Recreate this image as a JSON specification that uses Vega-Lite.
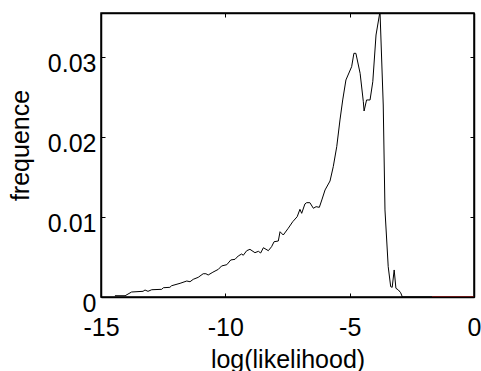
{
  "$schema": "https://vega.github.io/schema/vega-lite/v6.json",
  "autosize": "none",
  "width": 373,
  "height": 284,
  "padding": {"left": 101, "top": 13, "right": 7, "bottom": 74},
  "background": "white",
  "config": {
    "font": "Liberation Sans",
    "view": {"stroke": "black", "strokeWidth": 1.5},
    "axis": {"grid": false, "domainColor": "black", "domainWidth": 1.5, "tickColor": "black", "labelColor": "black", "titleColor": "black", "labelFont": "Liberation Sans", "titleFont": "Liberation Sans", "labelFontSize": 25, "titleFontSize": 25, "titleFontWeight": "normal"}
  },
  "data": {"values": [
    {"x": -14.44, "y": 0.00016, "s": "main"},
    {"x": -14.03, "y": 0.00016, "s": "main"},
    {"x": -13.77, "y": 0.000625, "s": "main"},
    {"x": -13.31, "y": 0.00071, "s": "main"},
    {"x": -13.23, "y": 0.000875, "s": "main"},
    {"x": -13.11, "y": 0.00071, "s": "main"},
    {"x": -12.96, "y": 0.00091, "s": "main"},
    {"x": -12.56, "y": 0.00096, "s": "main"},
    {"x": -12.49, "y": 0.00116, "s": "main"},
    {"x": -12.23, "y": 0.00121, "s": "main"},
    {"x": -12.16, "y": 0.00141, "s": "main"},
    {"x": -11.82, "y": 0.00171, "s": "main"},
    {"x": -11.55, "y": 0.0020, "s": "main"},
    {"x": -11.42, "y": 0.00191, "s": "main"},
    {"x": -11.29, "y": 0.00221, "s": "main"},
    {"x": -11.09, "y": 0.00246, "s": "main"},
    {"x": -10.89, "y": 0.00291, "s": "main"},
    {"x": -10.78, "y": 0.00291, "s": "main"},
    {"x": -10.69, "y": 0.00275, "s": "main"},
    {"x": -10.5, "y": 0.0031, "s": "main"},
    {"x": -10.28, "y": 0.00346, "s": "main"},
    {"x": -10.15, "y": 0.00388, "s": "main"},
    {"x": -9.94, "y": 0.00404, "s": "main"},
    {"x": -9.78, "y": 0.00463, "s": "main"},
    {"x": -9.61, "y": 0.00471, "s": "main"},
    {"x": -9.48, "y": 0.00513, "s": "main"},
    {"x": -9.34, "y": 0.00538, "s": "main"},
    {"x": -9.28, "y": 0.00521, "s": "main"},
    {"x": -9.14, "y": 0.00579, "s": "main"},
    {"x": -9.01, "y": 0.00596, "s": "main"},
    {"x": -8.81, "y": 0.00554, "s": "main"},
    {"x": -8.67, "y": 0.00571, "s": "main"},
    {"x": -8.58, "y": 0.0055, "s": "main"},
    {"x": -8.47, "y": 0.00616, "s": "main"},
    {"x": -8.27, "y": 0.00579, "s": "main"},
    {"x": -8.14, "y": 0.00629, "s": "main"},
    {"x": -8.04, "y": 0.00691, "s": "main"},
    {"x": -7.87, "y": 0.0070, "s": "main"},
    {"x": -7.80, "y": 0.00816, "s": "main"},
    {"x": -7.67, "y": 0.00775, "s": "main"},
    {"x": -7.47, "y": 0.00859, "s": "main"},
    {"x": -7.29, "y": 0.00941, "s": "main"},
    {"x": -7.11, "y": 0.01004, "s": "main"},
    {"x": -7.00, "y": 0.01096, "s": "main"},
    {"x": -6.93, "y": 0.01046, "s": "main"},
    {"x": -6.80, "y": 0.01163, "s": "main"},
    {"x": -6.73, "y": 0.01179, "s": "main"},
    {"x": -6.60, "y": 0.01179, "s": "main"},
    {"x": -6.46, "y": 0.01109, "s": "main"},
    {"x": -6.35, "y": 0.01129, "s": "main"},
    {"x": -6.22, "y": 0.01121, "s": "main"},
    {"x": -6.12, "y": 0.01213, "s": "main"},
    {"x": -5.99, "y": 0.01338, "s": "main"},
    {"x": -5.79, "y": 0.0145, "s": "main"},
    {"x": -5.66, "y": 0.01629, "s": "main"},
    {"x": -5.52, "y": 0.01879, "s": "main"},
    {"x": -5.39, "y": 0.02213, "s": "main"},
    {"x": -5.28, "y": 0.02463, "s": "main"},
    {"x": -5.15, "y": 0.02713, "s": "main"},
    {"x": -4.92, "y": 0.02879, "s": "main"},
    {"x": -4.83, "y": 0.03046, "s": "main"},
    {"x": -4.75, "y": 0.03046, "s": "main"},
    {"x": -4.58, "y": 0.02796, "s": "main"},
    {"x": -4.45, "y": 0.02441, "s": "main"},
    {"x": -4.42, "y": 0.02325, "s": "main"},
    {"x": -4.32, "y": 0.02463, "s": "main"},
    {"x": -4.18, "y": 0.02463, "s": "main"},
    {"x": -4.07, "y": 0.02691, "s": "main"},
    {"x": -3.94, "y": 0.03275, "s": "main"},
    {"x": -3.78, "y": 0.0357, "s": "main"},
    {"x": -3.65, "y": 0.024, "s": "main"},
    {"x": -3.58, "y": 0.01088, "s": "main"},
    {"x": -3.45, "y": 0.00379, "s": "main"},
    {"x": -3.35, "y": 0.00129, "s": "main"},
    {"x": -3.29, "y": 0.00121, "s": "main"},
    {"x": -3.21, "y": 0.00338, "s": "main"},
    {"x": -3.14, "y": 0.00109, "s": "main"},
    {"x": -3.04, "y": 0.000875, "s": "main"},
    {"x": -2.95, "y": 0.00054, "s": "main"},
    {"x": -2.88, "y": 0, "s": "main"},
    {"x": -1.69, "y": 0, "s": "main"},
    {"x": -1.69, "y": 0, "s": "red"},
    {"x": 0, "y": 0, "s": "red"}
  ]},
  "layer": [
    {
      "mark": {"type": "line", "clip": true, "strokeWidth": 1},
      "encoding": {
        "x": {"field": "x", "type": "quantitative", "scale": {"domain": [-15, 0], "nice": false},
          "axis": {"title": "log(likelihood)", "values": [-15, -10, -5, 0], "labelExpr": "datum.value < 0 ? '-' + abs(datum.value) : '' + datum.value", "tickSize": -4, "labelPadding": 42, "labelBaseline": "alphabetic", "labelFlush": false, "titleY": 70, "titleBaseline": "alphabetic"}},
        "y": {"field": "y", "type": "quantitative", "scale": {"domain": [0, 0.0355], "nice": false},
          "axis": {"title": "frequence", "values": [0, 0.01, 0.02, 0.03], "format": "~g", "tickSize": -4, "labelPadding": 9, "labelOffset": 6, "labelFlush": false, "titleX": -68, "titleY": 132, "titleBaseline": "bottom", "titleAlign": "center"}},
        "color": {"field": "s", "type": "nominal", "scale": {"domain": ["main", "red"], "range": ["black", "#a00000"]}, "legend": null},
        "strokeWidth": {"field": "s", "type": "nominal", "scale": {"domain": ["main", "red"], "range": [1, 2]}, "legend": null}
      }
    },
    {
      "mark": {"type": "line", "opacity": 0},
      "encoding": {
        "x": {"field": "x", "type": "quantitative", "axis": {"orient": "top", "title": null, "labels": false, "values": [-15, -10, -5, 0], "tickSize": -4}},
        "y": {"field": "y", "type": "quantitative", "axis": {"orient": "right", "title": null, "labels": false, "values": [0, 0.01, 0.02, 0.03], "tickSize": -4}}
      }
    }
  ],
  "resolve": {"axis": {"x": "independent", "y": "independent"}}
}
